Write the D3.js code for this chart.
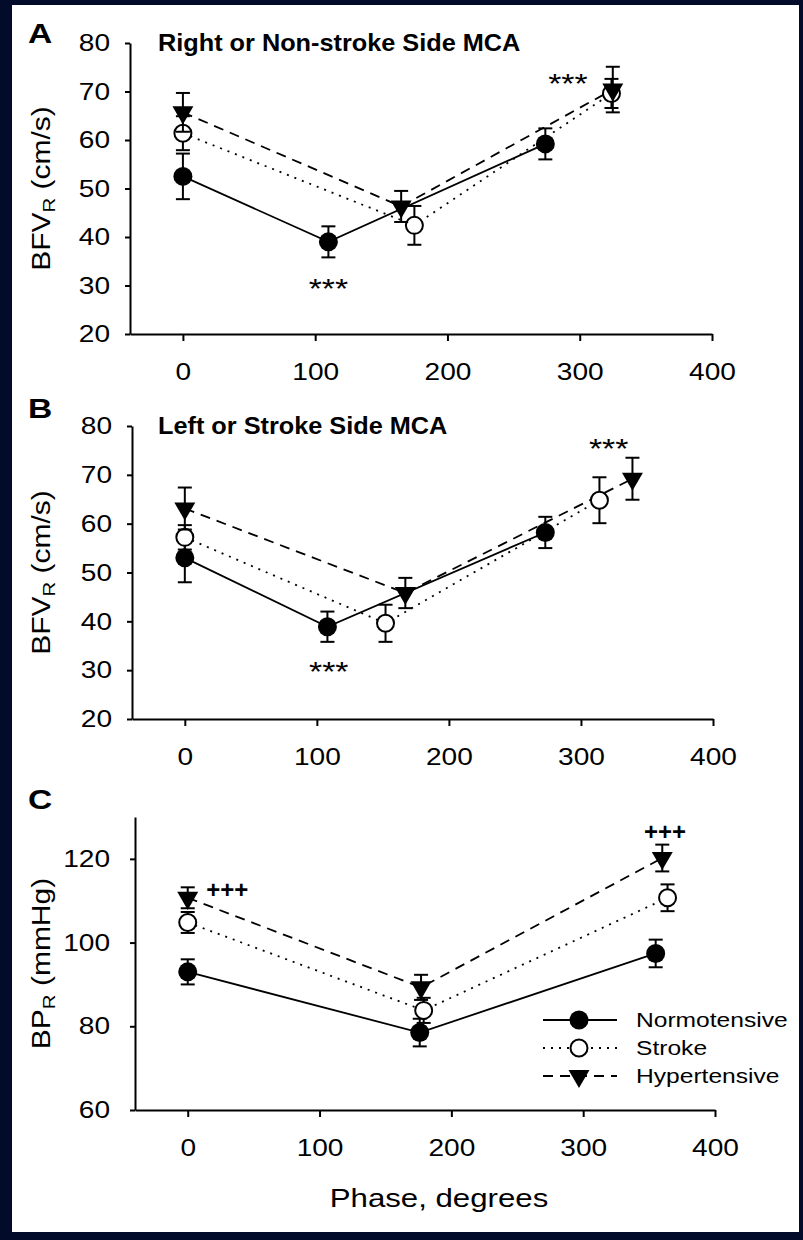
<!DOCTYPE html>
<html>
<head>
<meta charset="utf-8">
<script src="https://cdn.jsdelivr.net/npm/d3@7"></script>
<style>
  html, body { margin: 0; padding: 0; background: #020b29; }
  text { font-family: "Liberation Sans", Arial, Helvetica, sans-serif; fill: #000; }
</style>
</head>
<body>
<svg id="chart" width="803" height="1240"></svg>
<script>
// groups, legend order
var groups = ["Normotensive", "Stroke", "Hypertensive"];

// tick labels
var xTicks = [0, 100, 200, 300, 400];
var bfvTicks = [20, 30, 40, 50, 60, 70, 80];
var bpTicks = [60, 80, 100, 120];

// [phase (deg), mean, error]
// A: right or non-stroke side MCA, BFV_R (cm/s)
var aNormo = [[0, 52.5, 4.7], [110, 39.0, 3.2], [274, 59.2, 3.2]];
var aStroke = [[0, 61.4, 3.5], [175, 42.4, 4.0], [324, 69.6, 3.0]];
var aHyper = [[0, 65.7, 4.0], [165, 46.3, 3.2], [325, 70.4, 4.7]];
// B: left or stroke side MCA, BFV_R (cm/s)
var bNormo = [[0, 53.0, 5.0], [108, 38.9, 3.1], [273, 58.2, 3.2]];
var bStroke = [[0, 57.2, 2.5], [152, 39.6, 3.8], [314, 64.8, 4.7]];
var bHyper = [[0, 63.1, 4.3], [167, 45.8, 3.1], [339, 69.2, 4.3]];
// C: BP_R (mmHg)
var cNormo = [[0, 93.0, 3.0], [176, 78.5, 3.3], [355, 97.4, 3.3]];
var cStroke = [[0, 104.8, 2.5], [179, 83.8, 3.0], [364, 110.7, 3.2]];
var cHyper = [[0, 110.7, 2.5], [177, 89.3, 3.0], [360, 120.2, 3.2]];

// significance marks [phase, value]
var aStars = [[110, 30.7], [291, 73.0]];
var bStars = [[109, 31.0], [321, 76.8]];
var cPlus = [[30, 112.6], [362, 126.4]];

var SX = 1.17; // the regular text in the figure is drawn a bit wide

var svg = d3.select('#chart');

svg.append('rect')
	.attr('width', 803).attr('height', 1240)
	.attr('fill', '#020b29');
svg.append('rect')
	.attr('x', 12).attr('y', 5)
	.attr('width', 787).attr('height', 1227)
	.attr('fill', '#fff');

var styles = {
	Normotensive: {dash: null, marker: 'filled'},
	Stroke: {dash: '2,6', marker: 'open'},
	Hypertensive: {dash: '10,7', marker: 'triangle'}
};

function drawMarker(g, kind, cx, cy) {
	if (kind === 'filled') {
		g.append('circle').attr('cx', cx).attr('cy', cy).attr('r', 9.5).attr('fill', '#000');
	} else if (kind === 'open') {
		g.append('circle').attr('cx', cx).attr('cy', cy).attr('r', 8.5)
			.attr('fill', '#fff').attr('stroke', '#000').attr('stroke-width', 2);
	} else {
		g.append('path')
			.attr('d', d3.symbol(d3.symbolTriangle, 190)())
			.attr('transform', 'translate(' + cx + ',' + cy + ') rotate(180)')
			.attr('fill', '#000');
	}
}

function drawPanel(p) {
	var g = svg.append('g');

	var x = d3.scaleLinear().domain([-40, 400]).range([p.left, p.right]);
	var y = d3.scaleLinear().domain(p.yDomain).range([p.bottom, p.top]);

	var xAxis = g.append('g')
		.attr('transform', 'translate(0,' + p.bottom + ')')
		.call(d3.axisBottom(x).tickValues(xTicks).tickSize(7).tickSizeOuter(0).tickPadding(22));
	var yAxis = g.append('g')
		.attr('transform', 'translate(' + p.left + ',0)')
		.call(d3.axisLeft(y).tickValues(p.yTicks).tickSize(5).tickSizeOuter(0).tickPadding(p.yPad));

	[xAxis, yAxis].forEach(function(a) {
		a.attr('font-size', 24).attr('font-family', null);
		a.selectAll('path, line').attr('stroke', '#000').attr('stroke-width', 2);
		a.selectAll('.tick text')
			.attr('fill', '#222')
			.attr('x', function() { return (+this.getAttribute('x') || 0) / SX; })
			.attr('transform', 'scale(' + SX + ',1)');
	});

	// panel letter
	g.append('text')
		.attr('transform', 'translate(28,' + p.letterY + ') scale(1.2,1)')
		.attr('font-size', 28).attr('font-weight', 'bold')
		.text(p.letter);

	if (p.title) {
		g.append('text')
			.attr('transform', 'translate(158,' + (p.top + 8) + ') scale(1.1,1)')
			.attr('font-size', 23).attr('font-weight', 'bold')
			.text(p.title);
	}

	// y axis label with subscript R
	var lab = g.append('text')
		.attr('transform', 'translate(50,' + ((p.top + p.bottom) / 2) + ') rotate(-90) scale(1.2,1)')
		.attr('text-anchor', 'middle')
		.attr('font-size', 25).attr('fill', '#222');
	lab.append('tspan').text(p.yLabel[0]);
	lab.append('tspan').attr('font-size', 17).attr('dy', 5).text('R');
	lab.append('tspan').attr('dy', -5).text(' ' + p.yLabel[1]);

	var line = d3.line()
		.x(function(d) { return x(d[0]); })
		.y(function(d) { return y(d[1]); });

	groups.forEach(function(name) {
		g.append('path')
			.datum(p.series[name])
			.attr('d', line)
			.attr('fill', 'none')
			.attr('stroke', '#000')
			.attr('stroke-width', 1.8)
			.attr('stroke-dasharray', styles[name].dash);
	});

	groups.forEach(function(name) {
		p.series[name].forEach(function(d) {
			var cx = x(d[0]);
			var top = y(d[1] + d[2]), bot = y(d[1] - d[2]);
			g.append('line').attr('x1', cx).attr('x2', cx).attr('y1', top).attr('y2', bot)
				.attr('stroke', '#000').attr('stroke-width', 2);
			[top, bot].forEach(function(v) {
				g.append('line').attr('x1', cx - 7).attr('x2', cx + 7).attr('y1', v).attr('y2', v)
					.attr('stroke', '#000').attr('stroke-width', 2);
			});
			drawMarker(g, styles[name].marker, cx, y(d[1]));
		});
	});

	(p.stars || []).forEach(function(s) {
		g.append('text')
			.attr('transform', 'translate(' + x(s[0]) + ',' + (y(s[1]) + 16) + ') scale(1.25,1)')
			.attr('text-anchor', 'middle')
			.attr('font-size', 27).attr('fill', '#7a7a7a')
			.text('***');
	});
	(p.plus || []).forEach(function(s) {
		g.append('text')
			.attr('transform', 'translate(' + x(s[0]) + ',' + (y(s[1]) + 8) + ')')
			.attr('text-anchor', 'middle')
			.attr('font-size', 24).attr('font-weight', 'bold')
			.text('+++');
	});

	return {g: g, x: x, y: y};
}

drawPanel({
	letter: 'A', letterY: 43, title: 'Right or Non-stroke Side MCA',
	left: 130, right: 712, top: 43, bottom: 334,
	yDomain: [20, 80], yTicks: bfvTicks, yPad: 15,
	yLabel: ['BFV', '(cm/s)'],
	series: {Normotensive: aNormo, Stroke: aStroke, Hypertensive: aHyper},
	stars: aStars
});

drawPanel({
	letter: 'B', letterY: 418, title: 'Left or Stroke Side MCA',
	left: 132, right: 713, top: 426, bottom: 719,
	yDomain: [20, 80], yTicks: bfvTicks, yPad: 15,
	yLabel: ['BFV', '(cm/s)'],
	series: {Normotensive: bNormo, Stroke: bStroke, Hypertensive: bHyper},
	stars: bStars
});

var c = drawPanel({
	letter: 'C', letterY: 809, title: null,
	left: 135, right: 715, top: 817, bottom: 1110,
	yDomain: [60, 130], yTicks: bpTicks, yPad: 20,
	yLabel: ['BP', '(mmHg)'],
	series: {Normotensive: cNormo, Stroke: cStroke, Hypertensive: cHyper},
	plus: cPlus
});

// x axis title
c.g.append('text')
	.attr('transform', 'translate(439,1207) scale(1.2,1)')
	.attr('text-anchor', 'middle')
	.attr('font-size', 26).attr('fill', '#222')
	.text('Phase, degrees');

// legend
var legend = c.g.append('g').attr('transform', 'translate(543,1020)');
groups.forEach(function(name, i) {
	var row = legend.append('g').attr('transform', 'translate(0,' + (i * 28) + ')');
	row.append('line')
		.attr('x1', 0).attr('x2', 74)
		.attr('stroke', '#000').attr('stroke-width', 1.8)
		.attr('stroke-dasharray', styles[name].dash);
	drawMarker(row, styles[name].marker, 36, 0);
	row.append('text')
		.attr('transform', 'translate(93,7) scale(1.23,1)')
		.attr('font-size', 20).attr('fill', '#222')
		.text(name);
});
</script>
</body>
</html>
